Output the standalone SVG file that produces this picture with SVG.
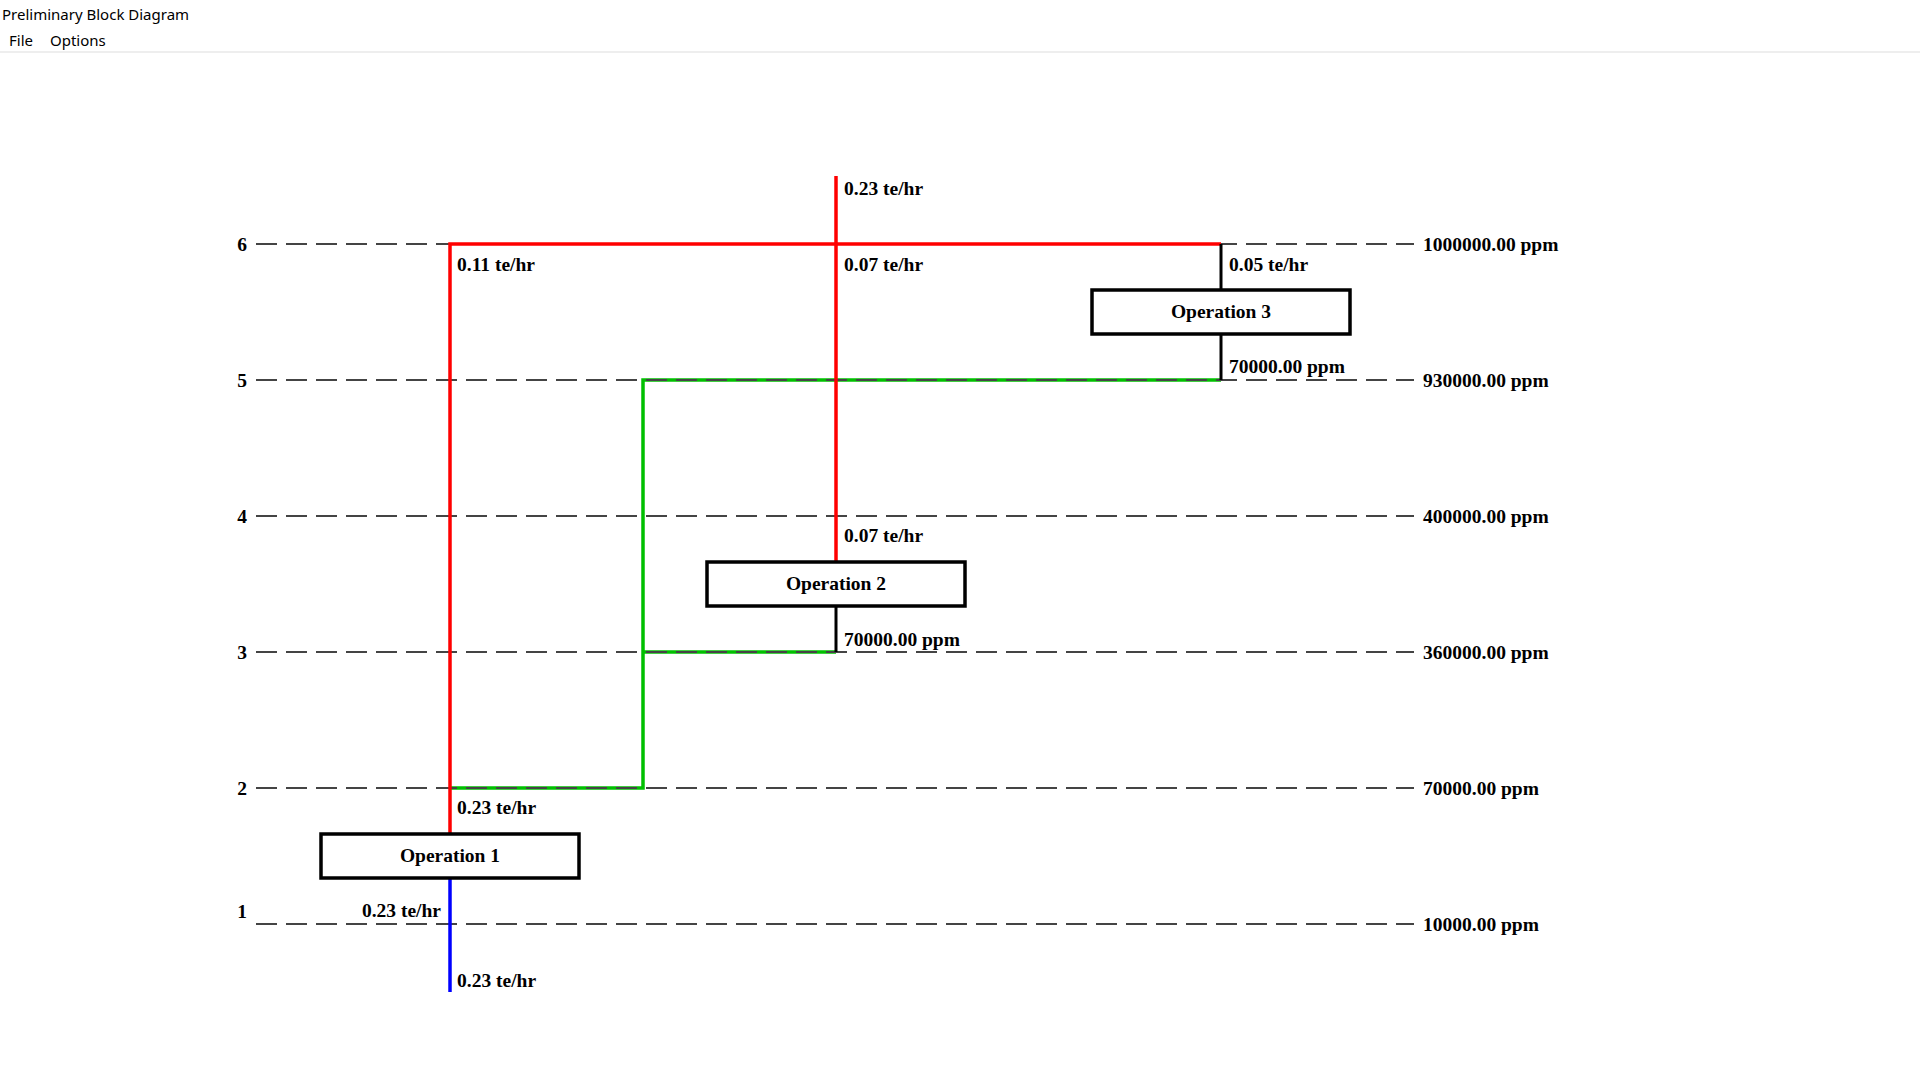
<svg xmlns="http://www.w3.org/2000/svg" width="1920" height="1080" viewBox="0 0 1920 1080">
<style>
.ui{font-family:"Noto Sans","Open Sans",sans-serif;font-size:15px;fill:#000}
.t{font-family:"Liberation Serif","Times New Roman",serif;font-size:19.5px;font-weight:bold;fill:#000}
.grid{stroke:#444;stroke-width:2;stroke-dasharray:21 9;fill:none}
.red{stroke:#ff0000;stroke-width:3.5;fill:none}
.grn{stroke:#00c000;stroke-width:3.5;fill:none}
.blu{stroke:#0000ff;stroke-width:3.5;fill:none}
.blk{stroke:#000;stroke-width:3;fill:none}
.box{fill:#fff;stroke:#000;stroke-width:3.5}
</style>
<rect x="0" y="0" width="1920" height="1080" fill="#fff"/>
<text class="ui" x="2" y="20">Preliminary Block Diagram</text>
<text class="ui" x="9" y="46">File</text>
<text class="ui" x="50" y="46">Options</text>
<rect x="0" y="51" width="1920" height="2" fill="#eeeeee"/>

<g id="connectors-green">
<path class="grn" d="M1221 380 H643 V788 H450"/>
<path class="grn" d="M643 652 H836"/>
</g>

<g id="grid">
<line class="grid" x1="256" y1="244" x2="1414" y2="244"/>
<line class="grid" x1="256" y1="380" x2="1414" y2="380"/>
<line class="grid" x1="256" y1="516" x2="1414" y2="516"/>
<line class="grid" x1="256" y1="652" x2="1414" y2="652"/>
<line class="grid" x1="256" y1="788" x2="1414" y2="788"/>
<line class="grid" x1="256" y1="924" x2="1414" y2="924"/>
<text class="t" x="247" y="251" text-anchor="end">6</text>
<text class="t" x="247" y="387" text-anchor="end">5</text>
<text class="t" x="247" y="523" text-anchor="end">4</text>
<text class="t" x="247" y="659" text-anchor="end">3</text>
<text class="t" x="247" y="795" text-anchor="end">2</text>
<text class="t" x="247" y="918" text-anchor="end">1</text>
<text class="t" x="1423" y="251">1000000.00 ppm</text>
<text class="t" x="1423" y="387">930000.00 ppm</text>
<text class="t" x="1423" y="523">400000.00 ppm</text>
<text class="t" x="1423" y="659">360000.00 ppm</text>
<text class="t" x="1423" y="795">70000.00 ppm</text>
<text class="t" x="1423" y="931">10000.00 ppm</text>
</g>

<g id="connectors">
<path class="red" d="M450 834 V244 H1221"/>
<path class="red" d="M836 176 V562"/>
<path class="blk" d="M1221 244 V290"/>
<path class="blk" d="M1221 334 V380"/>
<path class="blk" d="M836 606 V652"/>
<path class="blu" d="M450 878 V992"/>
<text class="t" x="844" y="195">0.23 te/hr</text>
<text class="t" x="457" y="271">0.11 te/hr</text>
<text class="t" x="844" y="271">0.07 te/hr</text>
<text class="t" x="1229" y="271">0.05 te/hr</text>
<text class="t" x="1229" y="373">70000.00 ppm</text>
<text class="t" x="844" y="542">0.07 te/hr</text>
<text class="t" x="844" y="646">70000.00 ppm</text>
<text class="t" x="457" y="814">0.23 te/hr</text>
<text class="t" x="441" y="917" text-anchor="end">0.23 te/hr</text>
<text class="t" x="457" y="987">0.23 te/hr</text>
</g>

<g id="operation-1">
<rect class="box" x="321" y="834" width="258" height="44"/>
<text class="t" x="450" y="862" text-anchor="middle">Operation 1</text>
</g>
<g id="operation-2">
<rect class="box" x="707" y="562" width="258" height="44"/>
<text class="t" x="836" y="590" text-anchor="middle">Operation 2</text>
</g>
<g id="operation-3">
<rect class="box" x="1092" y="290" width="258" height="44"/>
<text class="t" x="1221" y="318" text-anchor="middle">Operation 3</text>
</g>
</svg>
